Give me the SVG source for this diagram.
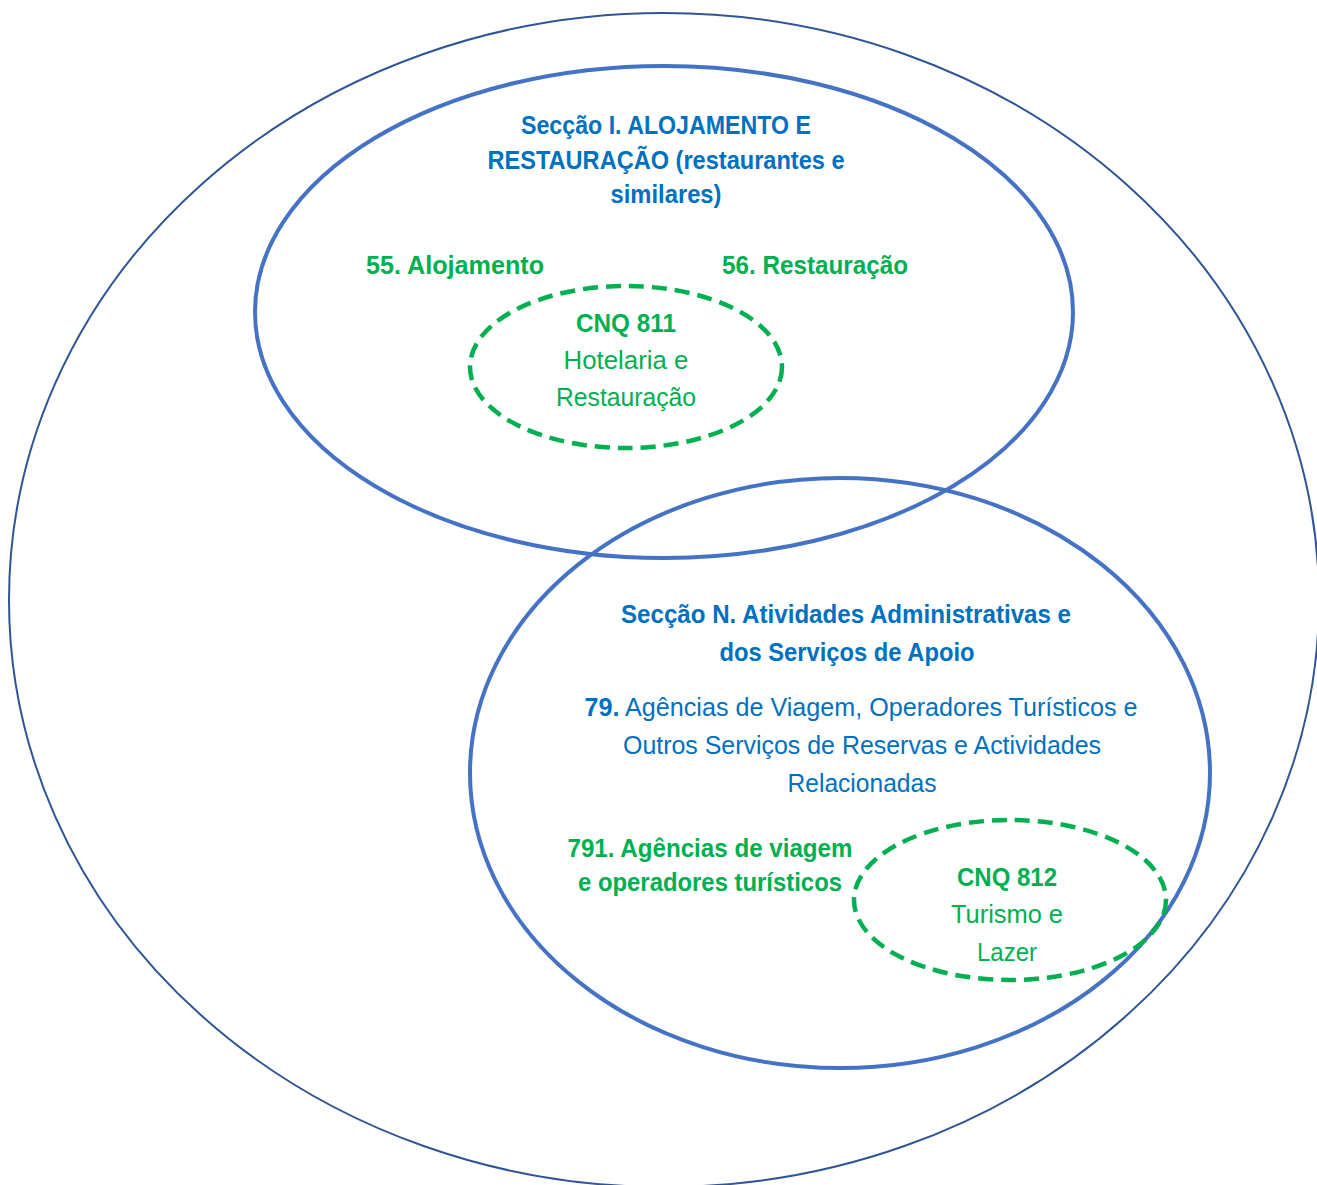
<svg xmlns="http://www.w3.org/2000/svg" width="1317" height="1185" viewBox="0 0 1317 1185">
<style>
.outer{fill:none;stroke:#2F5597;stroke-width:2}
.sec{fill:none;stroke:#4472C4;stroke-width:4}
.cnq{fill:none;stroke:#00B050;stroke-width:4.5;stroke-dasharray:15 8}
text{font-family:"Liberation Sans",Arial,sans-serif;font-size:26px;text-anchor:middle}
.tb{fill:#0070C0;font-weight:bold}
.tbr{fill:#0070C0}
.tg{fill:#00B050;font-weight:bold}
.tgr{fill:#00B050}
</style>
<rect width="1317" height="1185" fill="#fff"/>
<g id="universe">
<ellipse class="outer" cx="664" cy="600" rx="655" ry="587"/>
</g>
<g id="seccao-i">
<ellipse class="sec" cx="664" cy="312" rx="409" ry="246"/>
<text class="tb" x="666" y="134" textLength="290" lengthAdjust="spacingAndGlyphs">Secção I. ALOJAMENTO E</text>
<text class="tb" x="666" y="169" textLength="357" lengthAdjust="spacingAndGlyphs">RESTAURAÇÃO (restaurantes e</text>
<text class="tb" x="666" y="203" textLength="111" lengthAdjust="spacingAndGlyphs">similares)</text>
<text class="tg" x="455" y="274" textLength="178" lengthAdjust="spacingAndGlyphs">55. Alojamento</text>
<text class="tg" x="815" y="274" textLength="186" lengthAdjust="spacingAndGlyphs">56. Restauração</text>
</g>
<g id="seccao-n">
<ellipse class="sec" cx="840" cy="773" rx="370" ry="295"/>
<text class="tb" x="846" y="623" textLength="450" lengthAdjust="spacingAndGlyphs">Secção N. Atividades Administrativas e</text>
<text class="tb" x="847" y="661" textLength="255" lengthAdjust="spacingAndGlyphs">dos Serviços de Apoio</text>
<text class="tbr" x="861" y="716" textLength="553" lengthAdjust="spacingAndGlyphs"><tspan font-weight="bold">79.</tspan> Agências de Viagem, Operadores Turísticos e</text>
<text class="tbr" x="862" y="754" textLength="478" lengthAdjust="spacingAndGlyphs">Outros Serviços de Reservas e Actividades</text>
<text class="tbr" x="862" y="792" textLength="149" lengthAdjust="spacingAndGlyphs">Relacionadas</text>
<text class="tg" x="710" y="857" textLength="285" lengthAdjust="spacingAndGlyphs">791. Agências de viagem</text>
<text class="tg" x="710" y="891" textLength="264" lengthAdjust="spacingAndGlyphs">e operadores turísticos</text>
</g>
<g id="cnq-811">
<ellipse class="cnq" cx="626" cy="367" rx="156" ry="81"/>
<text class="tg" x="626" y="332" textLength="100" lengthAdjust="spacingAndGlyphs">CNQ 811</text>
<text class="tgr" x="626" y="369" textLength="125" lengthAdjust="spacingAndGlyphs">Hotelaria e</text>
<text class="tgr" x="626" y="406" textLength="140" lengthAdjust="spacingAndGlyphs">Restauração</text>
</g>
<g id="cnq-812">
<ellipse class="cnq" cx="1010" cy="900" rx="156" ry="80"/>
<text class="tg" x="1007" y="886" textLength="100" lengthAdjust="spacingAndGlyphs">CNQ 812</text>
<text class="tgr" x="1007" y="923" textLength="112" lengthAdjust="spacingAndGlyphs">Turismo e</text>
<text class="tgr" x="1007" y="961" textLength="60" lengthAdjust="spacingAndGlyphs">Lazer</text>
</g>
<g id="connectors"></g>
</svg>
